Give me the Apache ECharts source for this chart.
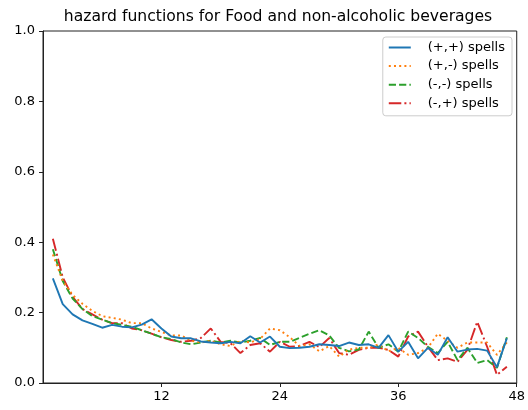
<!DOCTYPE html>
<html>
<head>
<meta charset="utf-8">
<script src="https://cdn.jsdelivr.net/npm/echarts@6/dist/echarts.min.js"></script>
<style>html,body{margin:0;padding:0;background:#fff}#c{width:528px;height:410px}</style>
</head>
<body>
<div id="c"></div>
<script>
const months = [1,2,3,4,5,6,7,8,9,10,11,12,13,14,15,16,17,18,19,20,21,22,23,24,25,26,27,28,29,30,31,32,33,34,35,36,37,38,39,40,41,42,43,44,45,46,47];
const ppSpells = [0.297,0.224,0.195,0.178,0.168,0.157,0.165,0.160,0.158,0.166,0.181,0.155,0.132,0.127,0.127,0.118,0.115,0.113,0.117,0.113,0.133,0.115,0.132,0.103,0.099,0.100,0.103,0.110,0.108,0.105,0.115,0.108,0.110,0.100,0.136,0.089,0.117,0.070,0.100,0.080,0.130,0.089,0.095,0.097,0.092,0.045,0.127];
const pmSpells = [0.365,0.290,0.250,0.225,0.205,0.190,0.185,0.180,0.170,0.170,0.155,0.145,0.135,0.135,0.120,0.115,0.120,0.110,0.105,0.120,0.115,0.125,0.155,0.150,0.130,0.105,0.110,0.090,0.105,0.075,0.095,0.100,0.100,0.110,0.090,0.100,0.080,0.085,0.100,0.140,0.120,0.100,0.115,0.115,0.115,0.080,0.115];
const mmSpells = [0.380,0.290,0.240,0.210,0.190,0.180,0.170,0.165,0.160,0.150,0.140,0.130,0.125,0.115,0.110,0.115,0.120,0.115,0.120,0.115,0.120,0.128,0.108,0.117,0.117,0.128,0.140,0.150,0.135,0.100,0.090,0.095,0.146,0.100,0.110,0.089,0.146,0.128,0.103,0.085,0.117,0.065,0.100,0.057,0.065,0.043,0.130];
const mpSpells = [0.410,0.300,0.245,0.210,0.195,0.180,0.170,0.170,0.155,0.150,0.140,0.130,0.122,0.117,0.120,0.128,0.155,0.117,0.113,0.085,0.108,0.113,0.089,0.117,0.103,0.105,0.117,0.102,0.128,0.085,0.080,0.094,0.100,0.100,0.094,0.075,0.132,0.146,0.103,0.065,0.070,0.060,0.094,0.174,0.103,0.023,0.046];
const seriesNames = ['(+,+) spells','(+,-) spells','(-,-) spells','(-,+) spells'];
const xTicks = [12,24,36,48];
const yTicks = [0,0.2,0.4,0.6,0.8,1.0];

const colors = ['#1f77b4','#ff7f0e','#2ca02c','#d62728'];
const dashTypes = ['solid',[2,3.2],[7.2,3.1],[12.5,3.1,2,3.1]];
const allData = [ppSpells, pmSpells, mmSpells, mpSpells];
const font = 'DejaVu Sans';

const chart = echarts.init(document.getElementById('c'), null, {renderer:'canvas'});
chart.setOption({
  animation:false,
  backgroundColor:'#fff',
  title:{
    text:'hazard functions for Food and non-alcoholic beverages',
    left:273, top:4, textAlign:'center',
    textStyle:{fontFamily:font, fontSize:15.6, fontWeight:'normal', color:'#000'}
  },
  legend:{
    orient:'vertical', right:16, top:37,
    padding:[4,7,6,5],
    itemWidth:22, itemHeight:14, itemGap:5.6,
    backgroundColor:'rgba(255,255,255,0.8)',
    borderColor:'#ccc', borderWidth:1, borderRadius:3,
    itemStyle:{opacity:0},
    textStyle:{fontFamily:font, fontSize:13, color:'#000', padding:[1,0,1,12]},
    data:seriesNames
  },
  grid:{left:43, right:8, top:31, bottom:27, show:true, borderColor:'#222', borderWidth:1, containLabel:false},
  xAxis:{
    type:'value', min:0, max:48, interval:12,
    axisLine:{show:true, lineStyle:{color:'#222', width:1}},
    axisTick:{show:true, length:4, inside:false, customValues:xTicks, lineStyle:{color:'#222'}},
    axisLabel:{margin:7, customValues:xTicks, fontFamily:font, fontSize:13, color:'#000',
      formatter:v=> v===0 ? '' : String(v)},
    splitLine:{show:false}
  },
  yAxis:{
    type:'value', min:0, max:1, interval:0.2,
    axisLine:{show:true, lineStyle:{color:'#222', width:1}},
    axisTick:{show:true, length:4, inside:false, lineStyle:{color:'#222'}},
    axisLabel:{margin:8, fontFamily:font, fontSize:13, color:'#000', formatter:v=>v.toFixed(1)},
    splitLine:{show:false}
  },
  series: seriesNames.map((n,i)=>({
    name:n, type:'line', symbol:'none', showSymbol:false,
    data: months.map((m,j)=>[m, allData[i][j]]),
    lineStyle:{color:colors[i], width:1.9, type:dashTypes[i]},
    itemStyle:{color:colors[i]},
    z: 10 - i
  }))
});
</script>
</body>
</html>
